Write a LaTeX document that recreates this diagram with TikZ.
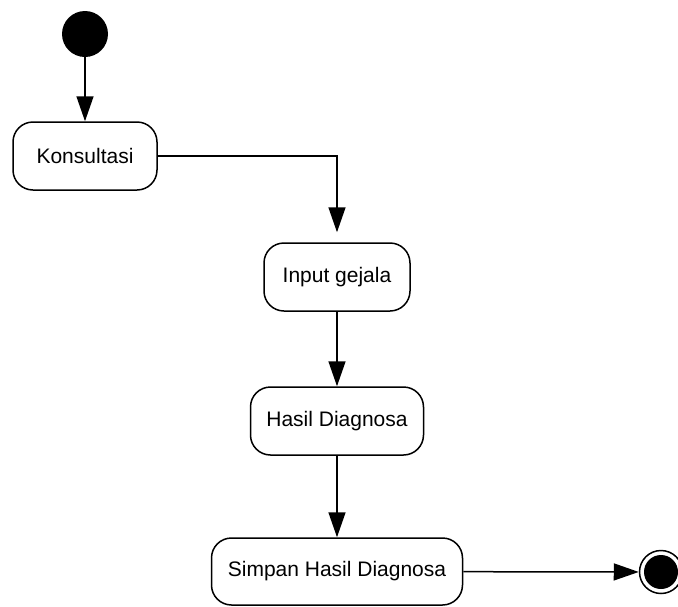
\documentclass[tikz,border=0pt]{standalone}
\usepackage{fontspec}
\setmainfont{Liberation Sans}
\usetikzlibrary{arrows.meta}
\begin{document}
\begin{tikzpicture}[x=1pt,y=-1pt]
\fontsize{21pt}{25pt}\selectfont
\tikzset{
    action/.style={draw, line width=1.5pt, rounded corners=20pt, fill=white, minimum height=68pt, inner sep=0pt},
    flow/.style={line width=1.5pt, -{Triangle[length=25pt,width=17pt]}},
}
\useasboundingbox (0,0) rectangle (678,606);

% start and end states
\node[circle, fill=black, minimum size=46pt, inner sep=0pt] (start) at (85,34) {};
\node[circle, draw, line width=1.5pt, minimum size=43pt, inner sep=0pt] (stop) at (661,572) {};
\fill (stop.center) circle (17pt);

% the actions
\node[action, minimum width=144pt] (konsultasi) at (85,156) {Konsultasi};
\node[action, minimum width=146pt] (input) at (337,277) {Input gejala};
\node[action, minimum width=173pt] (hasil) at (337,421) {Hasil Diagnosa};
\node[action, minimum width=251pt, minimum height=67pt] (simpan) at (337,571.5) {Simpan Hasil Diagnosa};

% transitions
\draw[flow] (start) -- (konsultasi);
\draw[flow, shorten >=10pt] (konsultasi.east) -| (input.north);
\draw[flow] (input) -- (hasil);
\draw[flow] (hasil) -- (simpan);
\draw[flow] (simpan) -- (stop);
\end{tikzpicture}
\end{document}
